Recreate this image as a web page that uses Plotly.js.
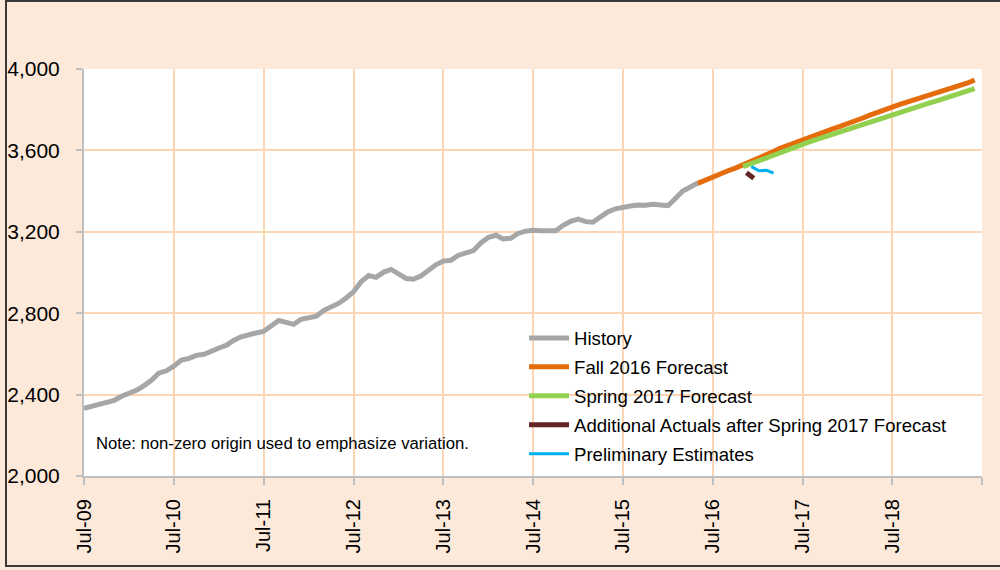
<!DOCTYPE html>
<html>
<head>
<meta charset="utf-8">
<script src="https://cdn.plot.ly/plotly-3.0.1.min.js"></script>
<style>
  html, body { margin: 0; padding: 0; background: #ffffff; }
  #wrap { position: relative; width: 1000px; height: 570px; overflow: hidden; }
  #chart { position: absolute; left: 0; top: 0; width: 1000px; height: 570px; }
  #frame { position: absolute; left: 5px; top: 0px; width: 1100px; height: 567px; border: 2px solid #3a3a3a; pointer-events: none; box-sizing: border-box; }
</style>
</head>
<body>
<div id="wrap"><div id="chart"></div><div id="frame"></div></div>
<script>
// ---- Data (monthly) ----
function months(startY, startM, n) {
  var out = [];
  for (var i = 0; i < n; i++) {
    var m = startM - 1 + i;
    var y = startY + Math.floor(m / 12);
    var mm = (m % 12) + 1;
    out.push(y + '-' + (mm < 10 ? '0' : '') + mm + '-01');
  }
  return out;
}

var historyValues = [
  2333, 2342, 2350, 2360, 2372, 2392, 2407, 2422, 2443, 2470, 2505, 2517,
  2540, 2570, 2578, 2593, 2598, 2615, 2629, 2643, 2666, 2684, 2695, 2703,
  2710, 2737, 2764, 2755, 2745, 2770, 2778, 2785, 2813, 2830, 2848, 2875,
  2905, 2955, 2985, 2976, 3002, 3015, 2993, 2970, 2967, 2983, 3010, 3038,
  3056, 3060, 3085, 3095, 3108, 3145, 3173, 3183, 3165, 3168, 3192, 3203,
  3208, 3205, 3208, 3205, 3232, 3252, 3262, 3250, 3247, 3270, 3298, 3313,
  3323, 3327, 3332, 3330, 3335, 3333, 3328, 3365, 3400, 3420, 3440
];
var historyDates = months(2009, 7, historyValues.length);

var fall2016Values = [
  3438, 3455, 3470, 3485, 3500, 3513, 3528, 3545, 3560, 3577, 3592, 3610,
  3624, 3640, 3655, 3667, 3680, 3694, 3706, 3718, 3730, 3743, 3758, 3773,
  3788, 3800, 3813, 3826, 3838, 3850, 3860, 3872, 3883, 3893, 3903, 3918,
  3930, 3946
];
var fall2016Dates = months(2016, 5, fall2016Values.length);

var spring2017Values = [
  3520, 3534, 3550, 3563, 3577, 3590, 3604, 3617, 3630, 3643, 3655, 3667,
  3678, 3690, 3703, 3715, 3728, 3740, 3753, 3765, 3778, 3788, 3800, 3812,
  3823, 3834, 3845, 3856, 3867, 3878, 3890, 3903
];
var spring2017Dates = months(2016, 11, spring2017Values.length);

var additionalDates = ['2016-11-15', '2016-12-15'];
var additionalValues = [3490, 3463];

var prelimDates = ['2016-12-05', '2017-01-05', '2017-02-05', '2017-03-05'];
var prelimValues = [3520, 3500, 3502, 3488];

var seriesNames = ['History', 'Fall 2016 Forecast', 'Spring 2017 Forecast',
  'Additional Actuals after Spring 2017 Forecast', 'Preliminary Estimates'];
var seriesColors = ['#a6a6a6', '#e46c0a', '#92d050', '#632523', '#00b0f0'];

var tickDates = ['2009-07-01','2010-07-01','2011-07-01','2012-07-01','2013-07-01',
  '2014-07-01','2015-07-01','2016-07-01','2017-07-01','2018-07-01','2019-07-01'];
var tickLabels = ['Jul-09','Jul-10','Jul-11','Jul-12','Jul-13',
  'Jul-14','Jul-15','Jul-16','Jul-17','Jul-18',''];

var yTickVals = [2000, 2400, 2800, 3200, 3600, 4000];
var noteText = 'Note: non-zero origin used to emphasize variation.';

// ---- Traces ----
var xs = [historyDates, fall2016Dates, spring2017Dates, additionalDates, prelimDates];
var ys = [historyValues, fall2016Values, spring2017Values, additionalValues, prelimValues];
var widths = [5, 5, 5, 5, 3];
var traces = [];
for (var i = 0; i < 5; i++) {
  traces.push({
    type: 'scatter', mode: 'lines', name: seriesNames[i],
    x: xs[i], y: ys[i], legendgroup: 'g' + i,
    line: { color: seriesColors[i], width: widths[i], shape: 'linear' },
    hoverinfo: 'x+y'
  });
}

var grid = '#fcd5b4';
var font = 'Liberation Sans, Arial, sans-serif';

var layout = {
  width: 1000, height: 570,
  paper_bgcolor: '#fde9d9',
  plot_bgcolor: '#ffffff',
  margin: { l: 84, r: 18, t: 69, b: 94, pad: 0 },
  showlegend: true,
  font: { family: font, color: '#000000' },
  xaxis: {
    type: 'date',
    range: ['2009-07-01', '2019-07-01'],
    tickmode: 'array', tickvals: tickDates, ticktext: tickLabels,
    tickangle: -90,
    tickfont: { family: font, size: 20, color: '#000000' },
    showgrid: true, gridcolor: grid, gridwidth: 2,
    showline: true, linecolor: '#bfbfbf', linewidth: 2,
    ticks: 'outside', ticklen: 7, tickcolor: '#bfbfbf', tickwidth: 2,
    ticklabelstandoff: 6,
    zeroline: false, fixedrange: true
  },
  yaxis: {
    range: [2000, 4000],
    tickmode: 'array', tickvals: yTickVals,
    tickformat: ',d',
    tickfont: { family: font, size: 21, color: '#000000' },
    showgrid: true, gridcolor: grid, gridwidth: 2,
    showline: true, linecolor: '#bfbfbf', linewidth: 2,
    ticks: 'outside', ticklen: 6, tickcolor: '#bfbfbf', tickwidth: 2,
    ticklabelstandoff: 12,
    zeroline: false, fixedrange: true
  },
  legend: {
    x: 0.49, y: 0.385, xanchor: 'left', yanchor: 'top',
    bgcolor: 'rgba(255,255,255,0)', borderwidth: 0,
    font: { family: font, size: 18.6, color: '#000000' },
    traceorder: 'grouped', tracegroupgap: 1.8,
    itemwidth: 40
  },
  shapes: [{
    type: 'rect', layer: 'between', xref: 'paper', yref: 'paper',
    x0: 0.47, x1: 0.98, y0: 0.0147, y1: 0.371,
    fillcolor: '#ffffff', line: { width: 0 }
  }],
  annotations: [{
    xref: 'paper', yref: 'paper', x: 0.0115, y: 0.081,
    xanchor: 'left', yanchor: 'middle', showarrow: false,
    text: noteText,
    font: { family: font, size: 16.7, color: '#000000' }
  }]
};

Plotly.newPlot('chart', traces, layout, { displayModeBar: false, staticPlot: true });
</script>
</body>
</html>
